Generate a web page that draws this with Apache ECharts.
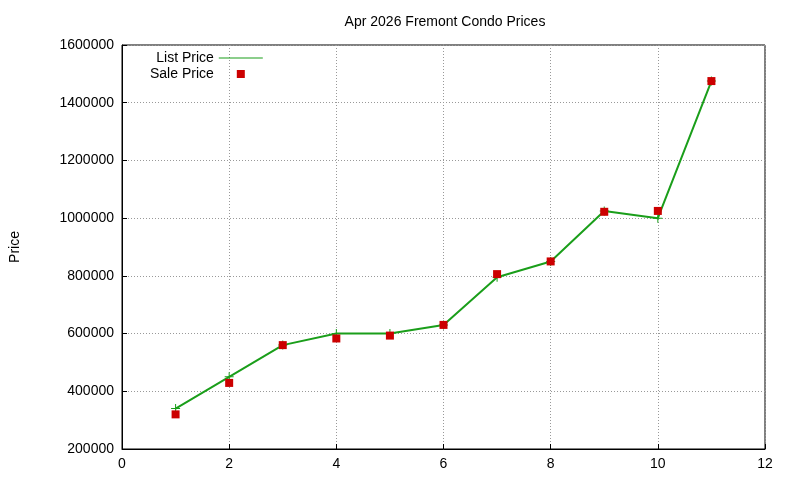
<!DOCTYPE html>
<html><head><meta charset="utf-8">
<script src="https://cdn.jsdelivr.net/npm/echarts@6/dist/echarts.min.js"></script>
<style>html,body{margin:0;padding:0;background:#fff}#c{width:800px;height:480px}</style>
</head><body><div id="c"></div>
<script>
const xs = [1,2,3,4,5,6,7,8,9,10,11];
const listPrice = [340000,450000,560000,600000,600000,630000,795000,850000,1025000,1000000,1475000];
const salePrice = [320000,429000,560000,583000,593000,630000,806000,850000,1022000,1025000,1475000];
const chart = echarts.init(document.getElementById('c'));
const font = 'Liberation Sans, Arial, sans-serif';
chart.setOption({
  animation:false,
  backgroundColor:'#fff',
  title:{text:'Apr 2026 Fremont Condo Prices',left:440,top:10,textAlign:'center',textStyle:{fontFamily:font,fontSize:14,fontWeight:'normal',color:'#000'}},
  legend:{orient:'vertical',left:145,top:46,align:'right',itemGap:2,itemWidth:44,itemHeight:10,
    textStyle:{fontFamily:font,fontSize:14,color:'#000'},
    data:[{name:'List Price',icon:'path://M0,5L44,5L44,6L0,6Z'},
          {name:'Sale Price',icon:'path://M0,0L0.01,0L0.01,0.01Z M18,1L26,1L26,9L18,9Z M44,10L43.99,10L43.99,9.99Z'}]},
  grid:{left:120,right:35,top:45,bottom:31,show:true,borderColor:'#000',borderWidth:1},
  xAxis:{type:'value',min:0,max:12,interval:2,
    axisLine:{lineStyle:{color:'#000'}},axisTick:{inside:true,lineStyle:{color:'#000'}},
    axisLabel:{fontFamily:font,fontSize:14,color:'#000'},
    splitLine:{lineStyle:{color:'#999',type:[1,2]}}},
  yAxis:{type:'value',min:200000,max:1600000,interval:200000,name:'Price',nameLocation:'middle',nameGap:100,
    nameTextStyle:{fontFamily:font,fontSize:14,color:'#000'},
    axisLine:{show:true,lineStyle:{color:'#000'}},axisTick:{inside:true,lineStyle:{color:'#000'}},
    axisLabel:{fontFamily:font,fontSize:14,color:'#000',formatter:v=>String(v)},
    splitLine:{lineStyle:{color:'#999',type:[1,2]}}},
  series:[
    {name:'List Price',type:'line',data:xs.map((x,i)=>[x,listPrice[i]]),color:'#1a9e1a',
     lineStyle:{width:2,color:'#1a9e1a'},symbol:'path://M4,0L5,0L5,4L9,4L9,5L5,5L5,9L4,9L4,5L0,5L0,4L4,4Z',symbolSize:9,
     itemStyle:{color:'#1a9e1a'}},
    {name:'Sale Price',type:'scatter',data:xs.map((x,i)=>[x,salePrice[i]]),symbol:'rect',symbolSize:8,
     color:'#cc0000',itemStyle:{color:'#cc0000',opacity:1},z:3}
  ]
});
</script></body></html>
